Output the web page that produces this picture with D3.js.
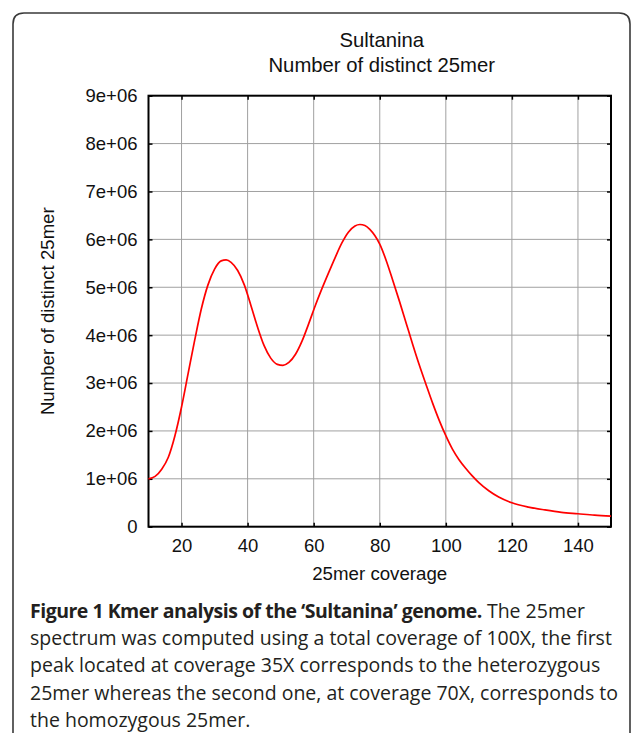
<!DOCTYPE html>
<html>
<head>
<meta charset="utf-8">
<script src="https://cdn.jsdelivr.net/npm/d3@7"></script>
<style>
  body { margin: 0; background: #fff; }
  svg { display: block; }
</style>
</head>
<body>
<svg id="chart"></svg>
<script>
const WIDTH = 633;
const HEIGHT = 733;

const TITLE_LINES = ['Sultanina', 'Number of distinct 25mer'];
const X_LABEL = '25mer coverage';
const Y_LABEL = 'Number of distinct 25mer';

const X_TICKS = [20, 40, 60, 80, 100, 120, 140];
const Y_TICKS = [0, 1e6, 2e6, 3e6, 4e6, 5e6, 6e6, 7e6, 8e6, 9e6];
const Y_TICK_LABELS = ['0', '1e+06', '2e+06', '3e+06', '4e+06', '5e+06', '6e+06', '7e+06', '8e+06', '9e+06'];

// coverage / count (millions)
const COVERAGE = [10, 12, 14, 16, 18, 20, 22, 24, 26, 28, 30, 32, 33.5, 35, 37, 39, 41, 43, 45, 47,
                  49, 50.7, 52.5, 54.5, 56.5, 58.5, 60.5, 62.5, 64.5, 66.5, 68.5, 70.5, 72.5, 74,
                  75.5, 77, 78.5, 80, 82, 84, 86, 88, 90, 92, 94, 96, 98, 100, 102, 104, 106, 108,
                  110, 113, 116, 120, 125, 130, 135, 140, 145, 150];
const COUNT_M = [1.00, 1.05, 1.20, 1.45, 1.90, 2.50, 3.20, 3.90, 4.55, 5.05, 5.38, 5.55, 5.57, 5.52,
                 5.35, 5.05, 4.62, 4.17, 3.78, 3.52, 3.39, 3.37, 3.43, 3.60, 3.88, 4.24, 4.62, 4.97,
                 5.30, 5.62, 5.92, 6.15, 6.28, 6.31, 6.29, 6.21, 6.08, 5.90, 5.55, 5.13, 4.70, 4.25,
                 3.80, 3.37, 2.97, 2.58, 2.22, 1.90, 1.62, 1.40, 1.22, 1.06, 0.92, 0.75, 0.62, 0.50,
                 0.41, 0.35, 0.30, 0.27, 0.24, 0.22];

const CAPTION_BOLD = 'Figure 1 Kmer analysis of the \u2018Sultanina\u2019 genome.';
const CAPTION_LINES = [
  ' The 25mer',
  'spectrum was computed using a total coverage of 100X, the first',
  'peak located at coverage 35X corresponds to the heterozygous',
  '25mer whereas the second one, at coverage 70X, corresponds to',
  'the homozygous 25mer.'
];

const margin = {left: 148.5, right: 611, top: 95.7, bottom: 526.7};
const FONT = 'Liberation Sans, Arial, Helvetica, sans-serif';

const svg = d3.select('#chart')
              .attr('width', WIDTH)
              .attr('height', HEIGHT);

// panel frame, open at the bottom
svg.append('path')
   .attr('d', `M13,${HEIGHT + 5} L13,24 Q13,13 24,13 L${WIDTH - 14},13 Q${WIDTH - 3},13 ${WIDTH - 3},24 L${WIDTH - 3},${HEIGHT + 5}`)
   .attr('fill', 'none')
   .attr('stroke', '#3a3a3a')
   .attr('stroke-width', 1.6);

const x = d3.scaleLinear().domain([10, 150]).range([margin.left, margin.right]);
const y = d3.scaleLinear().domain([0, 9e6]).range([margin.bottom, margin.top]);

// grid
const grid = svg.append('g');
grid.selectAll('.vgrid').data(X_TICKS).enter().append('line')
    .attr('x1', d => x(d)).attr('x2', d => x(d))
    .attr('y1', margin.top).attr('y2', margin.bottom)
    .attr('stroke', '#a0a0a0').attr('stroke-width', 1);
grid.selectAll('.hgrid').data(Y_TICKS.slice(1, -1)).enter().append('line')
    .attr('x1', margin.left).attr('x2', margin.right)
    .attr('y1', d => y(d)).attr('y2', d => y(d))
    .attr('stroke', '#a0a0a0').attr('stroke-width', 1);

// axes with inward ticks
const tickLen = 4;
svg.append('g').attr('transform', `translate(0,${margin.bottom})`)
   .call(d3.axisBottom(x).tickValues(X_TICKS).tickSize(-tickLen).tickPadding(12).tickFormat(d3.format('d')))
   .call(g => g.select('.domain').remove());
svg.append('g').attr('transform', `translate(0,${margin.top})`)
   .call(d3.axisTop(x).tickValues(X_TICKS).tickSize(-tickLen).tickFormat(''))
   .call(g => g.select('.domain').remove());
svg.append('g').attr('transform', `translate(${margin.left},0)`)
   .call(d3.axisLeft(y).tickValues(Y_TICKS).tickSize(-tickLen).tickPadding(11)
           .tickFormat((d, i) => Y_TICK_LABELS[i]))
   .call(g => g.select('.domain').remove());
svg.append('g').attr('transform', `translate(${margin.right},0)`)
   .call(d3.axisRight(y).tickValues(Y_TICKS).tickSize(-tickLen).tickFormat(''))
   .call(g => g.select('.domain').remove());

svg.selectAll('.tick line').attr('stroke', '#000').attr('stroke-width', 1.5);
svg.selectAll('.tick text')
   .attr('font-family', FONT)
   .attr('font-size', 18.5)
   .attr('fill', '#111');

// plot border
svg.append('rect')
   .attr('x', margin.left).attr('y', margin.top)
   .attr('width', margin.right - margin.left)
   .attr('height', margin.bottom - margin.top)
   .attr('fill', 'none')
   .attr('stroke', '#000')
   .attr('stroke-width', 2);

// curve
const points = COVERAGE.map((c, i) => ({x: c, y: COUNT_M[i] * 1e6}));
const line = d3.line()
               .x(d => x(d.x))
               .y(d => y(d.y))
               .curve(d3.curveMonotoneX);
svg.append('path')
   .datum(points)
   .attr('d', line)
   .attr('fill', 'none')
   .attr('stroke', '#ff0000')
   .attr('stroke-width', 1.7);

// titles
const cx = (margin.left + margin.right) / 2;
svg.selectAll('.title').data(TITLE_LINES).enter().append('text')
   .attr('x', cx + 2)
   .attr('y', (d, i) => 47 + i * 25)
   .attr('text-anchor', 'middle')
   .attr('font-family', FONT)
   .attr('font-size', 20.3)
   .attr('fill', '#111')
   .text(d => d);

svg.append('text')
   .attr('x', cx)
   .attr('y', 580)
   .attr('text-anchor', 'middle')
   .attr('font-family', FONT)
   .attr('font-size', 18.7)
   .attr('fill', '#111')
   .text(X_LABEL);

svg.append('text')
   .attr('transform', `translate(54,${(margin.top + margin.bottom) / 2}) rotate(-90)`)
   .attr('text-anchor', 'middle')
   .attr('font-family', FONT)
   .attr('font-size', 18.6)
   .attr('fill', '#111')
   .text(Y_LABEL);

// caption
const cap = svg.append('g')
               .attr('font-family', 'Open Sans, Noto Sans, sans-serif')
               .attr('font-size', 19.5)
               .attr('fill', '#231f20');
const first = cap.append('text').attr('x', 30).attr('y', 618);
first.append('tspan').attr('font-weight', 700).attr('letter-spacing', -0.5).text(CAPTION_BOLD);
first.append('tspan').text(CAPTION_LINES[0]);
CAPTION_LINES.slice(1).forEach((t, i) => {
  cap.append('text')
     .attr('x', 30)
     .attr('y', 618 + (i + 1) * 27.2)
     .text(t);
});
</script>
</body>
</html>
